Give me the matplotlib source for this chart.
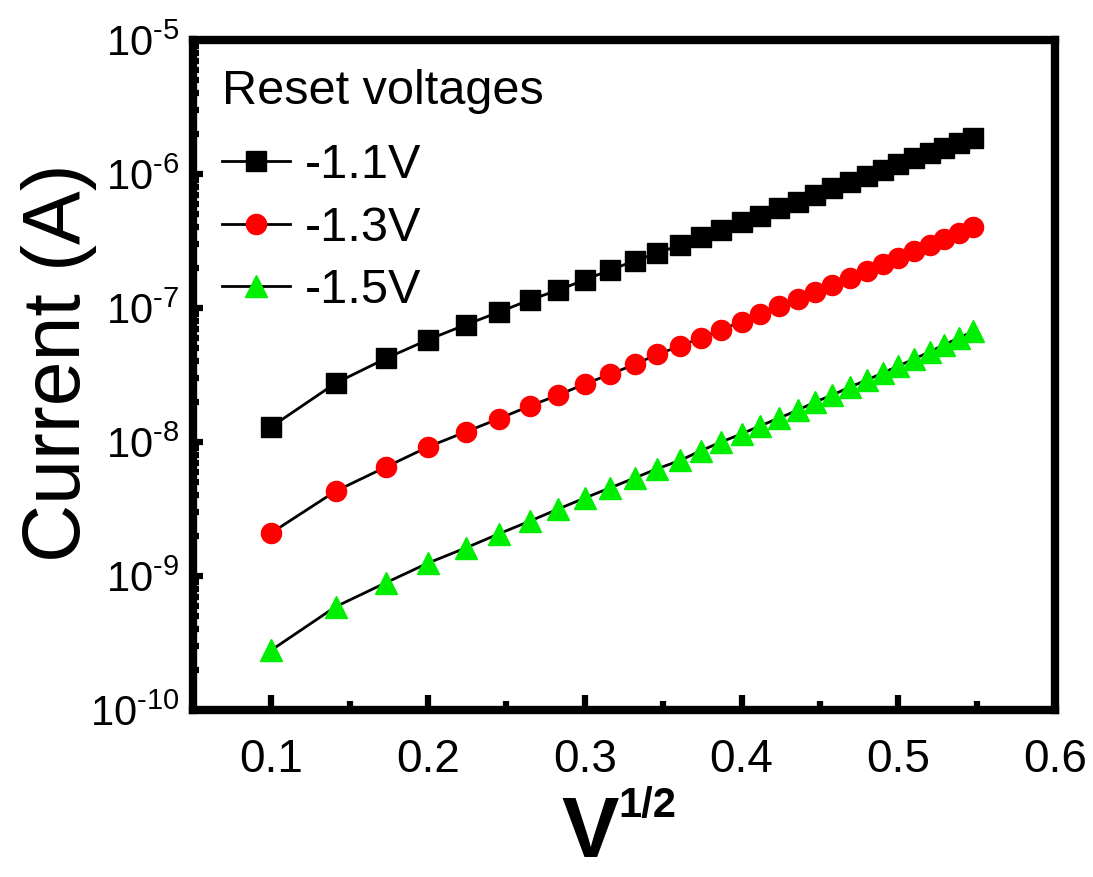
import numpy as np
import matplotlib
matplotlib.use("Agg")
import matplotlib.pyplot as plt
from matplotlib.ticker import MultipleLocator, LogLocator, FuncFormatter

plt.rcParams['font.family'] = ['Liberation Sans', 'DejaVu Sans']
plt.rcParams['mathtext.fontset'] = 'custom'
plt.rcParams['mathtext.rm'] = 'Liberation Sans'
plt.rcParams['mathtext.it'] = 'Liberation Sans:italic'
plt.rcParams['mathtext.bf'] = 'Liberation Sans:bold'

# sqrt(V) values
x = [0.100, 0.141, 0.173, 0.200, 0.224, 0.245, 0.265, 0.283, 0.300, 0.316,
     0.332, 0.346, 0.361, 0.374, 0.387, 0.400, 0.412, 0.424, 0.436, 0.447,
     0.458, 0.469, 0.480, 0.490, 0.500, 0.510, 0.520, 0.529, 0.539, 0.548]

i_11 = [1.3e-8, 2.75e-8, 4.2e-8, 5.8e-8, 7.5e-8, 9.3e-8, 1.15e-7, 1.36e-7, 1.62e-7, 1.92e-7,
        2.25e-7, 2.57e-7, 2.95e-7, 3.38e-7, 3.8e-7, 4.4e-7, 4.9e-7, 5.6e-7, 6.2e-7, 7.0e-7,
        7.9e-7, 8.7e-7, 9.7e-7, 1.07e-6, 1.19e-6, 1.32e-6, 1.44e-6, 1.56e-6, 1.70e-6, 1.86e-6]
i_13 = [2.1e-9, 4.3e-9, 6.5e-9, 9.2e-9, 1.19e-8, 1.49e-8, 1.86e-8, 2.24e-8, 2.71e-8, 3.2e-8,
        3.8e-8, 4.5e-8, 5.2e-8, 6.0e-8, 6.9e-8, 7.9e-8, 9.0e-8, 1.03e-7, 1.17e-7, 1.32e-7,
        1.49e-7, 1.68e-7, 1.89e-7, 2.13e-7, 2.36e-7, 2.66e-7, 2.95e-7, 3.27e-7, 3.63e-7, 4.02e-7]
i_15 = [2.8e-10, 5.9e-10, 8.9e-10, 1.25e-9, 1.62e-9, 2.06e-9, 2.57e-9, 3.16e-9, 3.82e-9, 4.54e-9,
        5.4e-9, 6.3e-9, 7.3e-9, 8.6e-9, 1.0e-8, 1.15e-8, 1.32e-8, 1.51e-8, 1.73e-8, 1.99e-8,
        2.24e-8, 2.57e-8, 2.9e-8, 3.27e-8, 3.69e-8, 4.16e-8, 4.7e-8, 5.3e-8, 6.0e-8, 6.7e-8]
labels = ['-1.1V', '-1.3V', '-1.5V']

fig = plt.figure(figsize=(10.93, 8.77), dpi=100)
ax = fig.add_axes([0.1766, 0.1904, 0.7886, 0.764])

ax.plot(x, i_11, '-s', color='black', mfc='black', mec='black', ms=14, lw=2, label=labels[0])
ax.plot(x, i_13, '-o', color='black', mfc='red', mec='red', ms=14.5, lw=2, label=labels[1])
ax.plot(x, i_15, '-^', color='black', mfc='#00ee00', mec='#00ee00', ms=16.5, lw=2, label=labels[2])

ax.set_yscale('log')
ax.set_xlim(0.05, 0.6)
ax.set_ylim(1e-10, 1e-5)
ax.xaxis.set_major_locator(MultipleLocator(0.1))
ax.xaxis.set_minor_locator(MultipleLocator(0.05))
ax.yaxis.set_minor_locator(LogLocator(base=10, subs=np.arange(2, 10), numticks=20))


def sci(v, pos):
    # hyphen instead of the minus sign, as in the original figure
    n = int(round(np.log10(v)))
    if n < 0:
        return '$10^{\u2010%d}$' % (-n)
    return '$10^{%d}$' % n


ax.yaxis.set_major_formatter(FuncFormatter(sci))

for s in ax.spines.values():
    s.set_linewidth(6)
ax.tick_params(which='both', direction='in', top=False, right=False, width=4.5)
ax.tick_params(axis='x', which='major', length=11, labelsize=33, pad=20)
ax.tick_params(axis='x', which='minor', length=6.5)
ax.tick_params(axis='y', which='major', length=7.5, labelsize=30, pad=10)
ax.tick_params(axis='y', which='minor', length=4.5)

ax.set_ylabel('Current (A)', fontsize=58)
ax.yaxis.set_label_coords(-0.111, 0.519)

# x label: big bold V with a smaller 1/2 exponent
fig.text(590 / 1093, 2 / 877, 'V', ha='center', va='bottom', fontsize=62, fontweight='bold')
fig.text(618 / 1093, 60 / 877, '1/2', ha='left', va='baseline', fontsize=30, fontweight='bold')

leg = ax.legend(title='Reset voltages', loc='upper left', frameon=False, fontsize=35,
                title_fontsize=35, handlelength=1.4, handletextpad=0.3, labelspacing=0.36,
                borderaxespad=0.3, borderpad=0.3)
leg._legend_box.align = 'left'
leg._legend_box.sep = 21

fig.savefig('out.png', dpi=100)
